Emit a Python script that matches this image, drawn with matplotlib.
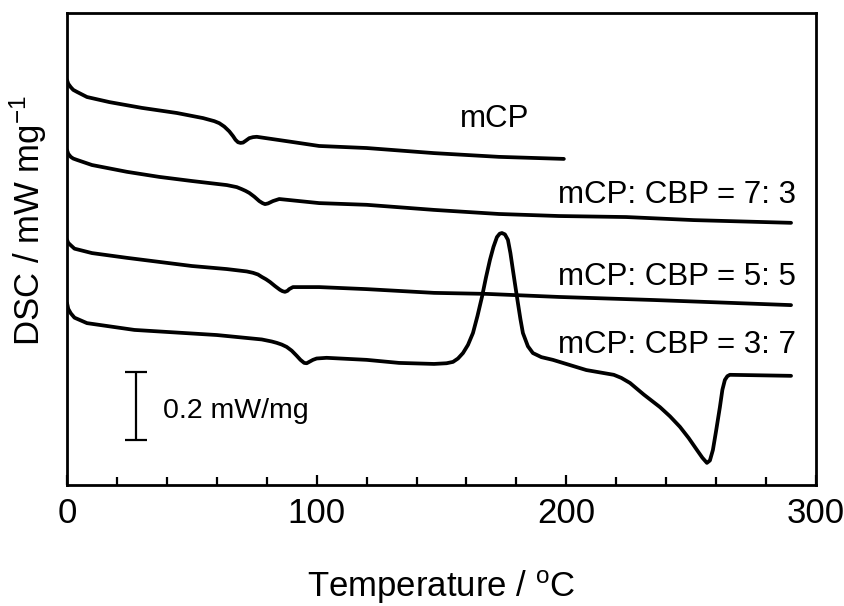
import numpy as np
import matplotlib
matplotlib.use("Agg")
import matplotlib.pyplot as plt

plt.rcParams['font.family'] = ['Liberation Sans', 'DejaVu Sans']
plt.rcParams['mathtext.fontset'] = 'custom'
plt.rcParams['mathtext.rm'] = 'Liberation Sans'
plt.rcParams['mathtext.it'] = 'Liberation Sans:italic'

# DSC traces (temperature in degC, heat flow in mW/mg, curves offset vertically)
t_mcp = [0, 0.5, 1.5, 2.5, 4, 8, 17, 30, 44, 54.5, 59, 61, 63, 65, 66.5, 67.5,
         68.5, 69.5, 70.5, 71.5, 73, 74.5, 76, 90, 101, 120, 147, 173, 199]
y_mcp = [1.191, 1.180, 1.170, 1.162, 1.156, 1.141, 1.126, 1.109, 1.094, 1.079,
         1.070, 1.064, 1.054, 1.040, 1.026, 1.015, 1.008, 1.006, 1.007, 1.012,
         1.020, 1.023, 1.024, 1.009, 0.997, 0.991, 0.976, 0.965, 0.959]

t_73 = [0, 0.5, 1.5, 2.5, 4, 10, 24, 37, 50, 64, 68, 70, 71.5, 73, 75, 77,
        78.3, 79.3, 80.5, 82.5, 85, 101, 120, 147, 173, 197, 224, 251, 290]
y_73 = [0.985, 0.974, 0.965, 0.960, 0.956, 0.941, 0.921, 0.906, 0.894, 0.882,
        0.876, 0.870, 0.865, 0.859, 0.848, 0.835, 0.829, 0.826, 0.828, 0.835,
        0.841, 0.829, 0.824, 0.809, 0.797, 0.791, 0.788, 0.779, 0.771]

t_55 = [0, 0.5, 1.5, 3, 10, 24, 37, 50, 64, 72, 74.5, 76.5, 78, 79.7, 81.3,
        83.3, 85.3, 86.3, 87.3, 88.3, 89, 90.5, 101, 120, 147, 168, 197, 235,
        290]
y_55 = [0.721, 0.712, 0.705, 0.695, 0.682, 0.668, 0.656, 0.644, 0.635, 0.628,
        0.624, 0.619, 0.612, 0.605, 0.597, 0.585, 0.574, 0.570, 0.568, 0.571,
        0.576, 0.582, 0.582, 0.576, 0.565, 0.562, 0.553, 0.544, 0.529]

t_37 = [0, 0.5, 1.5, 3, 8, 27, 60, 78, 82, 84, 86, 88, 90, 92, 93.5, 95, 96,
        97, 98.5, 100, 104, 120, 133, 147, 152, 154.6, 156.6, 158.6, 160.6,
        162.6, 164.4, 166.2, 167.8, 169.4, 170.8, 172.2, 173.3, 174.2, 175.4,
        176.6, 177.6, 178.6, 179.6, 180.6, 181.6, 182.6, 184.6, 186.6, 190,
        194.6, 208, 219, 222, 225.5, 231, 237.5, 241.5, 245.5, 249, 252.3,
        254.5, 256.3, 257.5, 258.7, 260, 261.5, 262.5, 263.5, 264.5, 265.5, 290]
y_37 = [0.535, 0.518, 0.505, 0.492, 0.476, 0.456, 0.441, 0.428, 0.422, 0.418,
        0.413, 0.406, 0.395, 0.380, 0.368, 0.359, 0.358, 0.362, 0.368, 0.372,
        0.374, 0.368, 0.359, 0.356, 0.358, 0.362, 0.372, 0.388, 0.412, 0.447,
        0.497, 0.553, 0.610, 0.662, 0.700, 0.729, 0.739, 0.741, 0.737, 0.721,
        0.682, 0.632, 0.583, 0.535, 0.488, 0.447, 0.408, 0.388, 0.376, 0.368,
        0.338, 0.324, 0.315, 0.300, 0.266, 0.229, 0.202, 0.171, 0.138, 0.103,
        0.080, 0.065, 0.072, 0.103, 0.160, 0.229, 0.280, 0.309, 0.320, 0.324,
        0.321]

labels = ['mCP', 'mCP: CBP = 7: 3', 'mCP: CBP = 5: 5', 'mCP: CBP = 3: 7']

fig = plt.figure(figsize=(8.45, 6.06), dpi=100)
ax = fig.add_axes([0.0793, 0.1997, 0.8864, 0.7788])

for t, y in [(t_mcp, y_mcp), (t_73, y_73), (t_55, y_55), (t_37, y_37)]:
    ax.plot(t, y, color='black', lw=2.7, solid_joinstyle='round',
            solid_capstyle='round')

ax.set_xlim(0, 300)
ax.set_ylim(0, 1.388)
ax.set_xticks([0, 100, 200, 300])
ax.set_xticks(np.arange(20, 300, 20), minor=True)
ax.set_yticks([])
ax.tick_params(axis='x', which='major', direction='in', length=7.5, width=1.6,
               labelsize=25, pad=9)
ax.tick_params(axis='x', which='minor', direction='in', length=5.5, width=1.6)
for s in ax.spines.values():
    s.set_linewidth(2)

ax.set_xlabel('Temperature / $^{\\mathrm{o}}$C', fontsize=25, labelpad=27)
ax.set_ylabel('DSC / mW mg$^{-1}$', fontsize=25)
ax.yaxis.set_label_coords(-0.024, 0.56)

# curve labels
ax.text(157.4, 1.053, labels[0], fontsize=22.5, ha='left', va='baseline')
ax.text(292, 0.829, labels[1], fontsize=22.5, ha='right', va='baseline')
ax.text(292, 0.588, labels[2], fontsize=22.5, ha='right', va='baseline')
ax.text(292, 0.388, labels[3], fontsize=22.5, ha='right', va='baseline')

# scale bar
ax.errorbar([27.5], [0.232], yerr=[[0.1], [0.1]], color='black', lw=1.6,
            capsize=8, capthick=1.6)
ax.text(38.5, 0.197, '0.2 mW/mg', fontsize=20.5, ha='left', va='baseline')

fig.savefig('out.png', dpi=100)
